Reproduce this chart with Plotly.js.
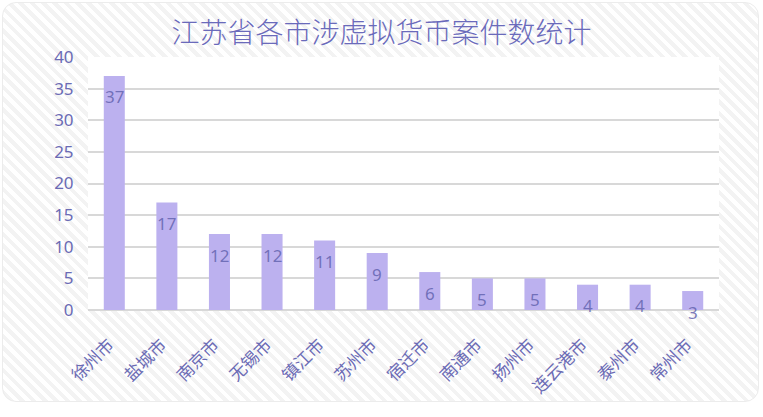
<!DOCTYPE html>
<html>
<head>
<meta charset="utf-8">
<script src="https://cdn.plot.ly/plotly-3.0.1.min.js"></script>
<style>
html,body{margin:0;padding:0;background:#fff;width:763px;height:417px;overflow:hidden;}
#card{position:absolute;left:2px;top:2px;width:755px;height:398px;border:1px solid #ececec;border-radius:14px;
background:repeating-linear-gradient(45deg,#ffffff 0px,#ffffff 4px,#f3f3f3 4px,#f3f3f3 8px);}
#chart{position:absolute;left:0;top:0;width:763px;height:417px;}
</style>
</head>
<body>
<div id="card"></div>
<div id="chart"></div>
<script>
var titleText = '江苏省各市涉虚拟货币案件数统计';
var cities = ['徐州市','盐城市','南京市','无锡市','镇江市','苏州市','宿迁市','南通市','扬州市','连云港市','泰州市','常州市'];
var counts = [37,17,12,12,11,9,6,5,5,4,4,3];
var yTicks = [0,5,10,15,20,25,30,35,40];

var labelColor = '#6b6bb5';
var annotations = cities.map(function(c,i){
  return {x:c, y:counts[i], xref:'x', yref:'y', text:String(counts[i]), showarrow:false,
    yanchor:'middle', yshift:-21, font:{family:'Noto Sans, Roboto, sans-serif', size:17, color:'rgba(100,100,175,0.85)'}};
});

var trace = {
  type:'bar', x:cities, y:counts,
  marker:{color:'#bcb1ef'},
  hoverinfo:'none'
};

var layout = {
  width:763, height:417,
  paper_bgcolor:'rgba(0,0,0,0)',
  plot_bgcolor:'#ffffff',
  margin:{l:88, r:44, t:57, b:107},
  bargap:0.6,
  showlegend:false,
  title:{text:titleText, x:0.5, xanchor:'center', y:0.92, yanchor:'middle',
    font:{family:'Noto Sans CJK SC, sans-serif', size:28, weight:300, color:'#6a6abb'}},
  xaxis:{
    type:'category', tickangle:-45, showgrid:false, zeroline:false, showline:false,
    tickvals:cities, ticktext:cities.map(function(c){return c+'\u00a0\u00a0';}),
    ticks:'outside', ticklen:12, tickcolor:'rgba(0,0,0,0)',
    tickfont:{family:'Noto Sans CJK SC, sans-serif', size:17, color:labelColor}
  },
  yaxis:{
    range:[0,40], tickvals:yTicks, showgrid:true, gridcolor:'#d8d8d8', gridwidth:2,
    zeroline:true, zerolinecolor:'#d8d8d8', zerolinewidth:2, showline:false,
    ticks:'outside', ticklen:10, tickcolor:'rgba(0,0,0,0)',
    tickfont:{family:'Noto Sans, Roboto, sans-serif', size:17, color:labelColor}
  },
  annotations:annotations
};

Plotly.newPlot('chart',[trace],layout,{displayModeBar:false, staticPlot:true});
</script>
</body>
</html>
